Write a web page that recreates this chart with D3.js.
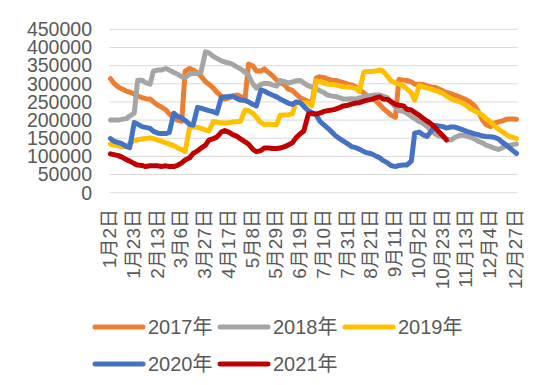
<!DOCTYPE html>
<html>
<head>
<meta charset="utf-8">
<script src="https://cdn.jsdelivr.net/npm/d3@7"></script>
<style>
  body { margin: 0; background: #fff; }
  text { font-family: "Liberation Sans", "Noto Sans CJK SC", sans-serif; fill: #595959; }
</style>
</head>
<body>
<div id="chart"></div>
<script>
// sample dates (month-day), twice a week, shared by every year
const dates = [
  "1-2", "1-5", "1-9", "1-12", "1-16", "1-19", "1-23", "1-26", "1-30", "2-2",
  "2-6", "2-9", "2-13", "2-16", "2-20", "2-23", "2-27", "3-2",
  "3-6", "3-9", "3-13", "3-16", "3-20", "3-23", "3-27", "3-30",
  "4-3", "4-6", "4-10", "4-13", "4-17", "4-20", "4-24", "4-27",
  "5-1", "5-4", "5-8", "5-11", "5-15", "5-18", "5-22", "5-25", "5-29", "6-1",
  "6-5", "6-8", "6-12", "6-15", "6-19", "6-22", "6-26", "6-29",
  "7-3", "7-6", "7-10", "7-13", "7-17", "7-20", "7-24", "7-27", "7-31", "8-3",
  "8-7", "8-10", "8-14", "8-17", "8-21", "8-24", "8-28", "8-31",
  "9-4", "9-7", "9-11", "9-14", "9-18", "9-21", "9-25", "9-28",
  "10-2", "10-5", "10-9", "10-12", "10-16", "10-19", "10-23", "10-26", "10-30", "11-2",
  "11-6", "11-9", "11-13", "11-16", "11-20", "11-23", "11-27", "11-30",
  "12-4", "12-7", "12-11", "12-14", "12-18", "12-21", "12-25", "12-27",
];

const tickDates = [
  "1-2", "1-23", "2-13", "3-6", "3-27", "4-17", "5-8", "5-29", "6-19",
  "7-10", "7-31", "8-21", "9-11", "10-2", "10-23", "11-13", "12-4", "12-27",
];

const yTicks = [0, 50000, 100000, 150000, 200000, 250000, 300000, 350000, 400000, 450000];

const s2017 = [
  314000, 302000, 291000, 286000, 280000, 277000, 272000, 266000, 262000, 259000,
  258000, 250000, 241000, 236000, 228000, 217000, 206000, 200000, 197000, 335000,
  342000, 338000, 330000, 321000, 306000, 299000, 288000, 277000, 266000, 258000,
  261000, 266000, 269000, 265000, 259000, 354000, 349000, 335000, 335000, 341000,
  330000, 323000, 310000, 303000, 297000, 286000, 281000, 272000, 261000, 257000,
  251000, 246000, 316000, 319000, 317000, 313000, 310000, 309000, 306000, 303000,
  299000, 297000, 291000, 283000, 275000, 266000, 265000, 255000, 243000, 233000,
  222000, 214000, 208000, 312000, 310000, 309000, 305000, 299000, 299000, 298000,
  294000, 291000, 290000, 286000, 280000, 276000, 273000, 269000, 265000, 261000,
  255000, 250000, 239000, 225000, 200000, 188000, 182000, 191000, 195000, 197000,
  202000, 203000, 203000, 202000,
];
const s2018 = [
  200000, 200000, 200000, 202000, 204000, 211000, 219000, 310000, 310000, 303000,
  299000, 335000, 338000, 338000, 342000, 338000, 331000, 327000, 319000, 317000,
  327000, 328000, 328000, 332000, 388000, 385000, 375000, 370000, 363000, 360000,
  357000, 353000, 346000, 341000, 332000, 323000, 299000, 288000, 298000, 301000,
  301000, 297000, 294000, 309000, 306000, 302000, 305000, 308000, 309000, 302000,
  294000, 291000, 286000, 281000, 275000, 269000, 266000, 265000, 261000, 258000,
  258000, 259000, 258000, 261000, 264000, 265000, 268000, 269000, 269000, 266000,
  261000, 250000, 236000, 226000, 224000, 219000, 210000, 204000, 196000, 192000,
  182000, 174000, 162000, 157000, 153000, 149000, 145000, 151000, 157000, 159000,
  156000, 153000, 148000, 142000, 137000, 131000, 127000, 123000, 119000, 123000,
  130000, 131000, 133000, 134000,
];
const s2019 = [
  134000, 131000, 129000, 127000, 129000, 135000, 144000, 146000, 148000, 149000,
  151000, 149000, 145000, 142000, 137000, 134000, 130000, 124000, 118000, 113000,
  181000, 181000, 180000, 177000, 173000, 170000, 196000, 195000, 192000, 192000,
  193000, 195000, 196000, 197000, 228000, 226000, 218000, 208000, 193000, 188000,
  189000, 188000, 188000, 213000, 214000, 214000, 218000, 250000, 247000, 248000,
  247000, 239000, 308000, 306000, 302000, 299000, 298000, 297000, 294000, 292000,
  291000, 290000, 287000, 279000, 332000, 334000, 334000, 335000, 338000, 335000,
  320000, 308000, 302000, 299000, 294000, 286000, 275000, 255000, 295000, 292000,
  288000, 286000, 281000, 279000, 273000, 266000, 259000, 255000, 251000, 247000,
  239000, 232000, 225000, 221000, 213000, 204000, 195000, 186000, 175000, 169000,
  160000, 155000, 151000, 149000,
];
const s2020 = [
  149000, 142000, 138000, 135000, 127000, 124000, 193000, 189000, 182000, 180000,
  177000, 169000, 164000, 163000, 163000, 166000, 219000, 211000, 206000, 199000,
  188000, 186000, 235000, 233000, 229000, 226000, 223000, 219000, 262000, 264000,
  265000, 266000, 259000, 255000, 254000, 250000, 243000, 239000, 283000, 280000,
  273000, 269000, 264000, 258000, 252000, 247000, 243000, 250000, 248000, 237000,
  226000, 221000, 214000, 197000, 186000, 178000, 166000, 157000, 148000, 142000,
  134000, 127000, 124000, 120000, 113000, 110000, 107000, 102000, 96000, 89000,
  82000, 75000, 72000, 75000, 76000, 76000, 87000, 164000, 167000, 160000,
  155000, 167000, 185000, 184000, 182000, 178000, 181000, 181000, 177000, 174000,
  169000, 166000, 162000, 160000, 156000, 155000, 154000, 153000, 148000, 140000,
  131000, 123000, 113000, 108000,
];
const s2021 = [
  107000, 105000, 102000, 98000, 91000, 87000, 80000, 76000, 75000, 72000,
  74000, 74000, 74000, 72000, 74000, 72000, 72000, 75000, 82000, 90000,
  96000, 108000, 115000, 123000, 131000, 145000, 149000, 153000, 167000, 171000,
  166000, 160000, 155000, 148000, 140000, 134000, 119000, 113000, 116000, 123000,
  123000, 122000, 122000, 123000, 127000, 131000, 138000, 151000, 163000, 170000,
  217000, 218000, 217000, 219000, 224000, 226000, 228000, 230000, 235000, 239000,
  241000, 244000, 247000, 248000, 252000, 255000, 257000, 261000, 264000, 258000,
  257000, 251000, 243000, 241000, 239000, 230000, 228000, 221000, 213000, 206000,
  197000, 191000, 180000, 169000, 157000, 145000,
];

const seriesNames = ["2017年", "2018年", "2019年", "2020年", "2021年"];
const seriesValues = [s2017, s2018, s2019, s2020, s2021];
const seriesColors = ["#ED7D31", "#A5A5A5", "#FFC000", "#4472C4", "#C00000"];

function toDate(md) {
  const [m, d] = md.split("-").map(Number);
  return new Date(2017, m - 1, d);
}

function createLineChart(containerId, options = {}) {
  const defaults = {
    width: 550,
    height: 385,
    left: 110.5,
    right: 516.5,
    top: 29.3,
    bottom: 192.7,
    strokeWidth: 5,
  };
  const config = { ...defaults, ...options };

  d3.select(containerId).selectAll("*").remove();

  const svg = d3
    .select(containerId)
    .append("svg")
    .attr("width", config.width)
    .attr("height", config.height);

  const x = d3
    .scaleTime()
    .domain([toDate("1-2"), toDate("12-27")])
    .range([config.left, config.right]);

  const y = d3
    .scaleLinear()
    .domain([0, 450000])
    .range([config.bottom, config.top]);

  // gridlines
  svg
    .append("g")
    .selectAll("line")
    .data(yTicks)
    .enter()
    .append("line")
    .attr("x1", config.left - 1)
    .attr("x2", config.right + 1)
    .attr("y1", (d) => y(d))
    .attr("y2", (d) => y(d))
    .attr("stroke", "#D9D9D9")
    .attr("stroke-width", 1);

  // y labels
  svg
    .append("g")
    .selectAll("text")
    .data(yTicks)
    .enter()
    .append("text")
    .attr("x", 92)
    .attr("y", (d) => y(d))
    .attr("dy", "0.35em")
    .attr("text-anchor", "end")
    .style("font-size", "19.5px")
    .text((d) => d);

  // x labels, rotated
  svg
    .append("g")
    .selectAll("text")
    .data(tickDates)
    .enter()
    .append("text")
    .attr("transform", (d) => `translate(${x(toDate(d)) - 1},209) rotate(-90)`)
    .attr("dy", "0.35em")
    .attr("text-anchor", "end")
    .style("font-size", "19px")
    .text((d) => d.replace("-", "月") + "日");

  // series lines
  const line = d3
    .line()
    .x((d, i) => x(toDate(dates[i])))
    .y((d) => y(d));

  svg
    .append("g")
    .selectAll("path")
    .data(seriesValues)
    .enter()
    .append("path")
    .attr("d", (d) => line(d))
    .attr("fill", "none")
    .attr("stroke", (d, i) => seriesColors[i])
    .attr("stroke-width", config.strokeWidth)
    .attr("stroke-linejoin", "round")
    .attr("stroke-linecap", "round");

  // legend: 3 per row
  const legend = svg
    .append("g")
    .selectAll("g")
    .data(seriesNames)
    .enter()
    .append("g")
    .attr("transform", (d, i) => `translate(${95 + (i % 3) * 125},${i < 3 ? 327 : 364})`);

  legend
    .append("line")
    .attr("x1", 0)
    .attr("x2", 48)
    .attr("stroke", (d, i) => seriesColors[i])
    .attr("stroke-width", config.strokeWidth)
    .attr("stroke-linecap", "round");

  legend
    .append("text")
    .attr("x", 53)
    .attr("dy", "0.35em")
    .style("font-size", "20px")
    .text((d) => d);

  return { svg, x, y };
}

createLineChart("#chart");
</script>
</body>
</html>
